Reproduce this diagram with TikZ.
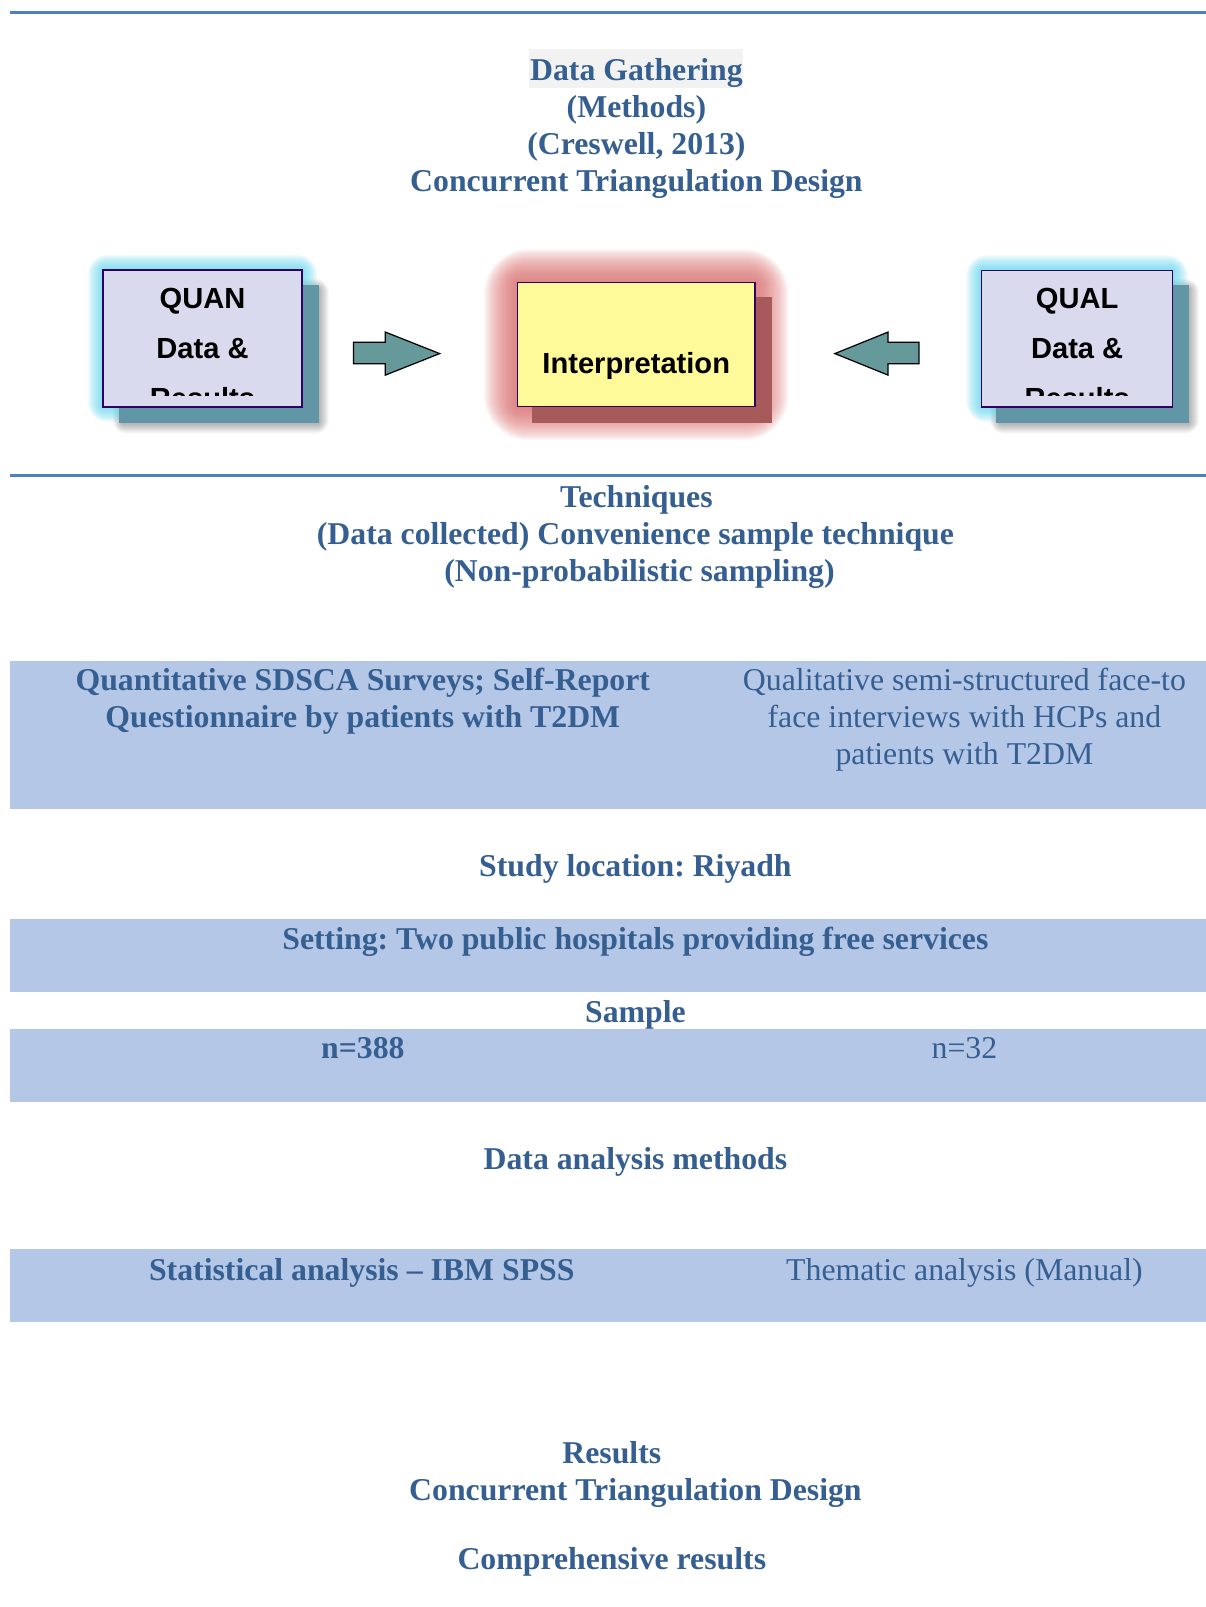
\documentclass[tikz,border=0pt]{standalone}
\usepackage{fontspec}
\setmainfont{Liberation Serif}
\newfontfamily\sansfam{Liberation Sans}
\usetikzlibrary{calc}
\definecolor{txtblue}{RGB}{54,95,145}
\definecolor{rulec}{RGB}{79,129,189}
\definecolor{bandc}{RGB}{180,199,231}
\definecolor{lavender}{RGB}{218,218,238}
\definecolor{boxline}{RGB}{50,0,100}
\definecolor{tealsh}{RGB}{96,150,165}
\definecolor{redsh}{RGB}{166,90,90}
\definecolor{arrowc}{RGB}{102,153,153}
\definecolor{glowcyan}{RGB}{90,215,240}
\definecolor{glowred}{RGB}{225,110,110}
\definecolor{hlgray}{RGB}{242,242,242}
\frenchspacing
\begin{document}
\begin{tikzpicture}[x=0.75pt,y=-0.75pt,
  every node/.style={inner sep=0pt,outer sep=0pt},
  ttl/.style={anchor=base,text=txtblue,font=\fontsize{23.25}{27}\selectfont\bfseries},
  ttn/.style={anchor=base,text=txtblue,font=\fontsize{23.25}{27}\selectfont},
  sanslbl/.style={anchor=base,text=black,font=\sansfam\bfseries\fontsize{21.3}{25}\selectfont},
  rulel/.style={draw=rulec,line width=2.25pt},
  band/.style={fill=bandc,draw=none},
  boxq/.style={fill=lavender,draw=boxline,line width=1.2pt},
  boxi/.style={fill=yellow!40!white,draw=boxline,line width=1.2pt},
  blockarrow/.style={fill=arrowc,draw=black,line width=0.9pt,line join=miter}]
\useasboundingbox (0,0) rectangle (1176.7,1568);
\fill[white] (0,0) rectangle (1176.7,1568);

% rules
\coordinate (r1a) at (10,12); \coordinate (r1b) at (1176.7,12);
\draw[rulel] (r1a) -- (r1b);
\coordinate (r2a) at (10,464); \coordinate (r2b) at (1176.7,464);
\draw[rulel] (r2a) -- (r2b);

% title
\fill[hlgray] (516,48) rectangle (725,86);
\node[ttl] (t1) at (621,79) {Data Gathering};
\node[ttl] (t2) at (621,115) {(Methods)};
\node[ttl] (t3) at (621,151) {(Creswell, 2013)};
\node[ttl] (t4) at (621,187) {Concurrent Triangulation Design};

% ---------- QUAN box ----------
\foreach \e in {1,...,10}
  \fill[black,opacity=0.03,rounded corners=\e pt] (120-\e,282-\e) rectangle (311+\e,413+\e);
\foreach \e in {1,...,15}
  \fill[glowcyan,opacity=0.07,rounded corners=\e pt] (100.5-\e,263.4-\e) rectangle (294.6+\e,397+\e);
\fill[tealsh] (116,278) rectangle (311,413);
\node[boxq,anchor=north west,minimum width=145.6pt,minimum height=100.2pt] (quan) at (100.5,263.4) {};
\begin{scope}
  \clip (100.5,263.4) rectangle (294.6,386);
  \node[sanslbl] (quan1) at (197.6,301) {QUAN};
  \node[sanslbl] (quan2) at (197.6,349.5) {Data \&};
  \node[sanslbl] (quan3) at (197.6,399) {Results};
\end{scope}

% ---------- QUAL box ----------
\foreach \e in {1,...,10}
  \fill[black,opacity=0.03,rounded corners=\e pt] (976-\e,282-\e) rectangle (1160+\e,413+\e);
\foreach \e in {1,...,15}
  \fill[glowcyan,opacity=0.07,rounded corners=\e pt] (957.7-\e,264-\e) rectangle (1144+\e,397+\e);
\fill[tealsh] (972,278) rectangle (1160,413);
\node[boxq,anchor=north west,minimum width=139.7pt,minimum height=99.75pt] (qual) at (957.7,264) {};
\begin{scope}
  \clip (957.7,264) rectangle (1144,386);
  \node[sanslbl] (qual1) at (1051,301) {QUAL};
  \node[sanslbl] (qual2) at (1051,349.5) {Data \&};
  \node[sanslbl] (qual3) at (1051,399) {Results};
\end{scope}

% ---------- Interpretation box ----------
\foreach \e in {1,...,33}
  \fill[glowred,opacity=0.045,rounded corners=\e pt] (505-\e,275.8-\e) rectangle (736.6+\e,396.8+\e);
\fill[redsh] (519,290) rectangle (752.9,413);
\node[boxi,anchor=north west,minimum width=173.7pt,minimum height=90.75pt] (interp) at (505,275.8) {};
\node[sanslbl] (interpt) at (620.8,364.5) {Interpretation};

% block arrows
\draw[blockarrow] (345,334) -- (376,334) -- (376,324) -- (429,345) -- (376,366) -- (376,355) -- (345,355) -- cycle;
\draw[blockarrow] (896.6,334) -- (866.5,334) -- (866.5,324) -- (814.6,345) -- (866.5,366) -- (866.5,355) -- (896.6,355) -- cycle;

% techniques
\node[ttl] (tech1) at (621,495) {Techniques};
\node[ttl] (tech2) at (620,531) {(Data collected) Convenience sample technique};
\node[ttl] (tech3) at (624,567) {(Non-probabilistic sampling)};

% band 1
\fill[band] (10,645) rectangle (1176.7,789);
\node[ttl] (q1) at (354,674) {Quantitative SDSCA Surveys; Self-Report};
\node[ttl] (q2) at (354,710) {Questionnaire by patients with T2DM};
\node[ttn] (ql1) at (941,674) {Qualitative semi-structured face-to};
\node[ttn] (ql2) at (941,710) {face interviews with HCPs and};
\node[ttn] (ql3) at (941,746) {patients with T2DM};

% study location
\node[ttl] (loc) at (620,855) {Study location: Riyadh};

% band 2
\fill[band] (10,897) rectangle (1176.7,968);
\node[ttl] (set) at (620,926) {Setting: Two public hospitals providing free services};

% sample
\fill[band] (10,1004) rectangle (1176.7,1075);
\node[ttl] (samp) at (620,998) {Sample};
\node[ttl] (n1) at (354,1033) {n=388};
\node[ttn] (n2) at (941,1033) {n=32};

% analysis
\node[ttl] (dam) at (620,1141) {Data analysis methods};
\fill[band] (10,1219) rectangle (1176.7,1290);
\node[ttl] (stat) at (353,1249) {Statistical analysis – IBM SPSS};
\node[ttn] (them) at (941,1249) {Thematic analysis (Manual)};

% results
\node[ttl] (res1) at (597,1428) {Results};
\node[ttl] (res2) at (620,1464) {Concurrent Triangulation Design};
\node[ttl] (res3) at (597,1531) {Comprehensive results};
\end{tikzpicture}
\end{document}
